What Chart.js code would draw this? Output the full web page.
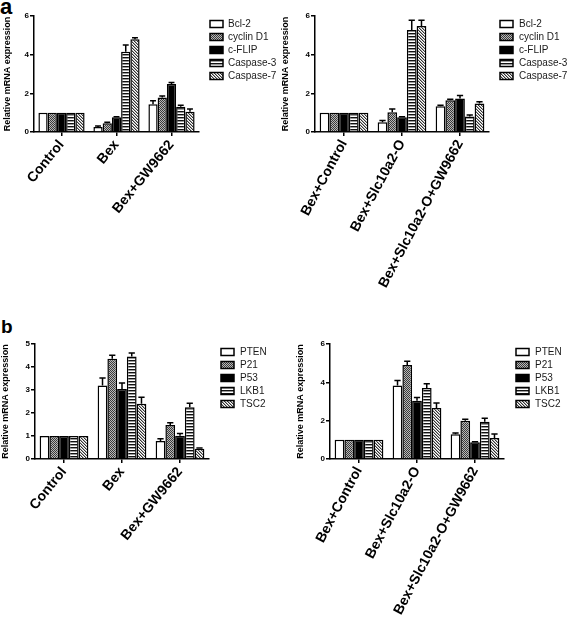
<!DOCTYPE html>
<html lang="en">
<head>
    <meta charset="UTF-8">
    <title>Relative mRNA expression</title>
    <script src="https://cdn.jsdelivr.net/npm/chart.js@4.4.1/dist/chart.umd.min.js"></script>
    <style>
        body { margin:0; background:#fff; width:567px; height:628px; position:relative; overflow:hidden; font-family:"Liberation Sans", Arial, sans-serif; }
        .panel { position:absolute; }
        .tag { position:absolute; font-weight:bold; color:#000; line-height:1; }
    </style>
</head>
<body>
    <div class="tag" style="left:0px; top:-4px; font-size:22px;">a</div>
    <div class="tag" style="left:1px; top:317px; font-size:19px;">b</div>

    <div class="panel" style="left:0px; top:0px;"><canvas id="chartA1" width="285" height="300"></canvas></div>
    <div class="panel" style="left:280px; top:0px;"><canvas id="chartA2" width="287" height="300"></canvas></div>
    <div class="panel" style="left:0px; top:300px;"><canvas id="chartB1" width="285" height="328"></canvas></div>
    <div class="panel" style="left:280px; top:300px;"><canvas id="chartB2" width="287" height="328"></canvas></div>

    <script>
    // groups on the x axis
    var groupsA1 = ['Control', 'Bex', 'Bex+GW9662'];
    var groupsA2 = ['Bex+Control', 'Bex+Slc10a2-O', 'Bex+Slc10a2-O+GW9662'];
    // genes (one bar series each)
    var genesA = ['Bcl-2', 'cyclin D1', 'c-FLIP', 'Caspase-3', 'Caspase-7'];
    var genesB = ['PTEN', 'P21', 'P53', 'LKB1', 'TSC2'];

    // panel a, left : values per gene across groupsA1, and their error
    var a1Vals = [[1, 0.26, 1.43], [1, 0.45, 1.79], [1, 0.76, 2.48], [1, 4.15, 1.31], [1, 4.8, 1.05]];
    var a1Errs = [[0, 0.05, 0.19], [0, 0.05, 0.07], [0, 0.03, 0.08], [0, 0.35, 0.08], [0, 0.07, 0.14]];
    // panel a, right
    var a2Vals = [[1, 0.5, 1.33], [1, 1.02, 1.64], [1, 0.76, 1.73], [1, 5.28, 0.8], [1, 5.48, 1.48]];
    var a2Errs = [[0, 0.1, 0.05], [0, 0.17, 0.05], [0, 0.03, 0.16], [0, 0.5, 0.08], [0, 0.3, 0.08]];
    // panel b, left
    var b1Vals = [[1, 3.2, 0.78], [1, 4.36, 1.48], [1, 3.04, 1.01], [1, 4.46, 2.25], [1, 2.4, 0.45]];
    var b1Errs = [[0, 0.32, 0.1], [0, 0.15, 0.1], [0, 0.26, 0.1], [0, 0.15, 0.17], [0, 0.29, 0.03]];
    // panel b, right
    var b2Vals = [[1, 3.84, 1.29], [1, 4.9, 2.0], [1, 3.04, 0.87], [1, 3.7, 1.95], [1, 2.66, 1.1]];
    var b2Errs = [[0, 0.26, 0.07], [0, 0.2, 0.07], [0, 0.17, 0.03], [0, 0.22, 0.17], [0, 0.26, 0.21]];

    // y axis ticks
    var ticksA = [0, 2, 4, 6];
    var ticksB1 = [0, 1, 2, 3, 4, 5];
    var ticksB2 = [0, 2, 4, 6];

    Chart.defaults.font.family = '"Liberation Sans", Arial, sans-serif';
    Chart.defaults.color = '#000';

    // small tiles used as bar fills
    function makeTile(w, h, cells) {
        var c = document.createElement('canvas');
        c.width = w; c.height = h;
        var cx = c.getContext('2d');
        cx.fillStyle = '#fff';
        cx.fillRect(0, 0, w, h);
        cells.forEach(function (p) {
            cx.fillStyle = p[2];
            cx.fillRect(p[0], p[1], 1, 1);
        });
        return c;
    }

    function makeFills(ctx) {
        var checker = makeTile(2, 2, [[0, 0, '#3a3a3a'], [1, 1, '#3a3a3a'], [1, 0, '#b8b8b8'], [0, 1, '#b8b8b8']]);
        var stripes = makeTile(1, 3, [[0, 0, '#111'], [0, 1, '#9a9a9a']]);
        var diag = makeTile(3, 3, [[0, 0, '#333'], [1, 1, '#333'], [2, 2, '#333'], [1, 0, '#aaa'], [2, 1, '#aaa'], [0, 2, '#aaa']]);
        return [
            '#ffffff',
            ctx.createPattern(checker, 'repeat'),
            '#000000',
            ctx.createPattern(stripes, 'repeat'),
            ctx.createPattern(diag, 'repeat')
        ];
    }

    // upward error bars, placed with the chart's own y scale
    var errorBars = {
        id: 'errorBars',
        afterDatasetsDraw: function (chart) {
            var ctx = chart.ctx;
            var y = chart.scales.y;
            ctx.save();
            ctx.strokeStyle = '#000';
            ctx.lineWidth = 1.5;
            chart.data.datasets.forEach(function (ds, i) {
                var meta = chart.getDatasetMeta(i);
                meta.data.forEach(function (bar, j) {
                    var e = ds.errs[j];
                    if (!e) return;
                    var top = y.getPixelForValue(ds.data[j] + e);
                    var half = bar.width * 0.32;
                    ctx.beginPath();
                    ctx.moveTo(bar.x, bar.y);
                    ctx.lineTo(bar.x, top);
                    ctx.moveTo(bar.x - half, top);
                    ctx.lineTo(bar.x + half, top);
                    ctx.stroke();
                });
            });
            ctx.restore();
        }
    };

    // legend to the right of the plot
    var boxLegend = {
        id: 'boxLegend',
        afterDraw: function (chart, args, o) {
            var ctx = chart.ctx;
            ctx.save();
            ctx.font = '10px "Liberation Sans", Arial, sans-serif';
            ctx.textBaseline = 'middle';
            chart.data.datasets.forEach(function (ds, i) {
                var cy = o.y + i * o.gap;
                ctx.fillStyle = ds.backgroundColor;
                ctx.fillRect(o.x, cy - 3.5, 13, 7);
                ctx.strokeStyle = '#000';
                ctx.lineWidth = 1.5;
                ctx.strokeRect(o.x, cy - 3.5, 13, 7);
                ctx.fillStyle = '#1a1a1a';
                ctx.fillText(ds.label, o.textX, cy + 0.5);
            });
            ctx.restore();
        }
    };

    function drawPanel(id, groups, genes, vals, errs, cfg) {
        var canvas = document.getElementById(id);
        var ctx = canvas.getContext('2d');
        var fills = makeFills(ctx);
        var datasets = genes.map(function (g, i) {
            return {
                label: g,
                data: vals[i],
                errs: errs[i],
                backgroundColor: fills[i],
                borderColor: '#000',
                borderWidth: 1.5,
                categoryPercentage: 0.84,
                barPercentage: 1.0
            };
        });
        new Chart(ctx, {
            type: 'bar',
            data: { labels: groups, datasets: datasets },
            plugins: [errorBars, boxLegend],
            options: {
                responsive: false,
                animation: false,
                layout: { padding: { left: cfg.padLeft, right: cfg.padRight, top: cfg.top, bottom: 0 } },
                plugins: {
                    legend: { display: false },
                    tooltip: { enabled: false },
                    boxLegend: cfg.legend
                },
                scales: {
                    x: {
                        grid: { drawOnChartArea: false, offset: false, tickLength: 4, color: '#000', lineWidth: 1.5 },
                        border: { color: '#000', width: 1.5 },
                        ticks: {
                            autoSkip: false,
                            minRotation: cfg.rot, maxRotation: cfg.rot,
                            padding: 1,
                            color: '#000',
                            font: { size: 14, weight: 'bold' }
                        },
                        afterFit: function (s) { s.height = cfg.xHeight; }
                    },
                    y: {
                        min: 0,
                        max: cfg.ticks[cfg.ticks.length - 1],
                        afterBuildTicks: function (s) {
                            s.ticks = cfg.ticks.map(function (v) { return { value: v }; });
                        },
                        grid: { drawOnChartArea: false, tickLength: 4, color: '#000', lineWidth: 1.5 },
                        border: { color: '#000', width: 1.5 },
                        ticks: { padding: 1, color: '#000', font: { size: 8, weight: 'bold' } },
                        title: {
                            display: true,
                            text: 'Relative mRNA expression',
                            color: '#000',
                            font: { size: 9, weight: 'bold' },
                            padding: { top: cfg.titlePad, bottom: 0 }
                        },
                        afterFit: function (s) { s.width = cfg.yWidth; }
                    }
                }
            }
        });
    }

    drawPanel('chartA1', groupsA1, genesA, a1Vals, a1Errs, {
        padLeft: 0, padRight: 86, top: 16, xHeight: 168, yWidth: 34, titlePad: 2, rot: 51,
        ticks: ticksA, legend: { x: 210, textX: 228, y: 24, gap: 13 }
    });
    drawPanel('chartA2', groupsA2, genesA, a2Vals, a2Errs, {
        padLeft: 0, padRight: 78, top: 16, xHeight: 168, yWidth: 35, titlePad: 0, rot: 62,
        ticks: ticksA, legend: { x: 220, textX: 239, y: 24, gap: 13 }
    });
    drawPanel('chartB1', groupsA1, genesB, b1Vals, b1Errs, {
        padLeft: 0, padRight: 76, top: 44, xHeight: 169, yWidth: 35, titlePad: 0, rot: 51,
        ticks: ticksB1, legend: { x: 221, textX: 240, y: 52, gap: 13 }
    });
    drawPanel('chartB2', groupsA2, genesB, b2Vals, b2Errs, {
        padLeft: 15, padRight: 63, top: 44, xHeight: 169, yWidth: 35, titlePad: 0, rot: 62,
        ticks: ticksB2, legend: { x: 236, textX: 255, y: 52, gap: 13 }
    });
    </script>
</body>
</html>
